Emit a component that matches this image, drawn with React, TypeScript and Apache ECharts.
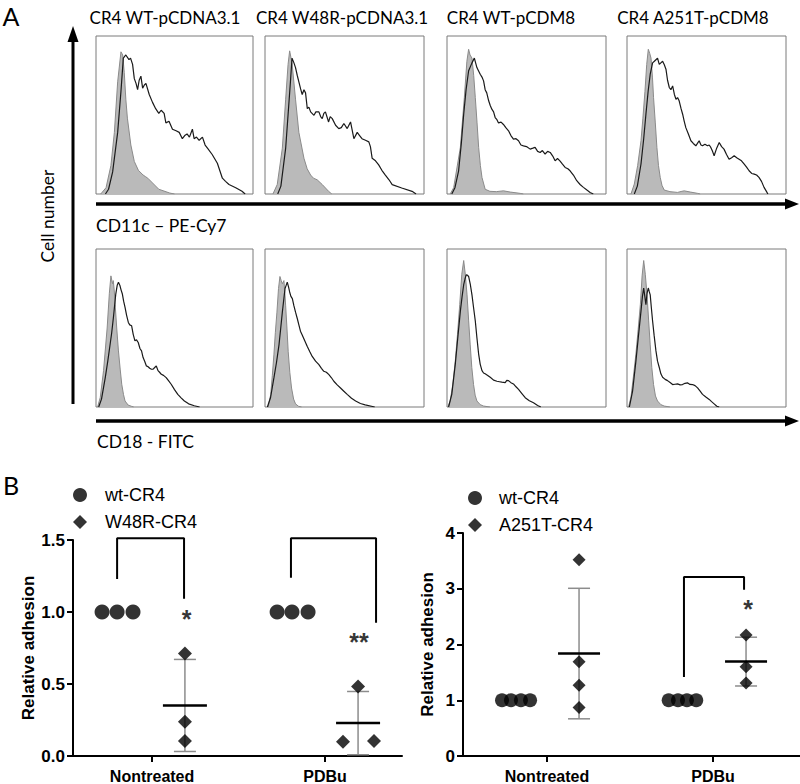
import React, { useEffect, useRef } from 'react';
import * as echarts from 'echarts';

// ---------- Panel A : flow cytometry histograms (x: fluorescence 0-100, y: % of max) ----------
const PANEL_TITLES = ['CR4 WT-pCDNA3.1', 'CR4 W48R-pCDNA3.1', 'CR4 WT-pCDM8', 'CR4 A251T-pCDM8'];
const TITLE_X = [165, 342, 511, 693];

// CD11c – PE-Cy7 row
const CD11C_WT31_CTRL = [[3,0],[6.4,4],[9.5,18],[11.7,39],[13.8,71],[15.9,90],[17,88],[18,77],[19,60],[20,48],[22.2,31],[24.4,20.6],[27,15],[30,12],[31.5,11],[33,10],[36,7],[40,3],[47,0.6],[50,0]];
const CD11C_WT31_STAIN = [[6,0],[8,3],[10.6,14],[13.8,39],[15.9,65],[17.4,86],[19,88],[21,85],[22,86],[23.3,82],[24.4,73],[25.5,70],[26.5,66],[27.5,72],[28.6,74.6],[29.7,67],[30.8,69],[31.8,70],[33.9,63],[36,58],[38,54],[40,51],[41.5,53],[43.4,51],[44.5,45],[46.5,46],[48.7,41],[51,40],[53,39],[55,35],[56.5,37],[58,38],[59.5,36],[61.4,41],[62.5,35],[64,36],[65.7,34],[67.8,36],[69.5,31],[71,29],[74,25],[77.3,19.5],[80.5,10],[82.5,8],[84.7,6],[89,4],[93,1.7],[95,0]];
const CD11C_W48R_CTRL = [[5,0],[7.7,6],[10.9,29],[13,60],[14.5,82],[15.5,90.6],[17,83],[19.2,60],[21.3,39],[24.5,22.6],[26.5,16],[28.7,12],[30.5,10],[32.8,9],[36,6],[40,1.7],[42,0]];
const CD11C_W48R_STAIN = [[8,0],[10,5],[13,29],[16,71],[17,86],[18.2,83],[19.2,80],[20.3,75],[21.3,71],[22.4,66.5],[23.4,63],[24.5,66],[25.5,64],[26.6,54],[27.6,55],[28.7,52],[30.8,49.8],[32,52],[33.9,52],[35,49],[36,47.7],[37,51],[38,52],[40,45.6],[41,49],[42.3,47.7],[44.4,43.5],[46.4,41.4],[48,42],[49.6,44.6],[51.7,41.4],[53.8,45.6],[55.9,35],[58,39],[59.5,37],[61,35],[63.2,34],[65.3,33],[66.3,30],[67.4,22.6],[69.5,21],[71.5,18.4],[73.5,15],[75.7,12],[78,9],[80,5.9],[86,3.8],[92.5,1.7],[95,0]];
const CD11C_WT8_CTRL = [[2,0],[4.2,4],[8.4,29.5],[10.9,61],[12.5,84],[13.6,91.6],[14.5,88],[15.7,86],[16.8,75],[17.8,61],[18.9,45],[19.9,29.5],[21,18],[22,10.5],[24,3],[27,1.7],[31,1.5],[35.5,2],[40,1.2],[46,0.4],[48,0]];
const CD11C_WT8_STAIN = [[3,0],[5,4],[7.3,14.7],[9,32],[10.5,50.5],[12,66],[13.6,78],[15.7,83],[17.2,86],[18,83],[18.8,80],[19.8,78],[20.9,75.8],[22,74],[23,71.6],[24,66],[25,64],[26.2,59],[27.2,56],[28.2,53.7],[29.3,52],[30.3,48.4],[31.4,47],[32.4,45],[34,45.5],[35.5,44],[37,42],[38.7,40],[40.2,37],[41.8,34.7],[43.4,35],[45,33.7],[46.5,31],[48.1,30.5],[50,30],[52.3,28.4],[54,29],[55.4,29.5],[57,27],[58.6,26.3],[60,27.5],[61.7,25.3],[63.3,27],[64.9,26.3],[66.5,24],[68,21],[69.5,22.5],[71,21],[72.5,19],[74.3,16.8],[76,16],[77.4,14.7],[79.5,12],[81.6,8.4],[83.7,6],[85.8,4.2],[88,2.5],[90,1],[92,0]];
const CD11C_A251T_CTRL = [[2.5,0],[4.6,6.3],[6.7,18],[8.8,33.7],[10,48],[11.3,65],[12.4,82],[13.4,91.6],[14.3,89],[15.1,86],[16,74],[16.7,61],[17.8,45],[18.8,29.5],[19.8,18],[20.9,10.5],[22,5.5],[23.4,2.5],[27,1.5],[31.8,1],[34,1.6],[36,2],[40,1.2],[44.4,0.4],[46,0]];
const CD11C_A251T_STAIN = [[4.6,0],[6.5,5],[8.8,19],[10.5,35],[11.9,50.5],[13.3,65],[14.6,75.8],[16.1,83],[17.2,84],[18.2,85],[19.2,86],[20.3,82],[21.3,83],[22.4,84],[23.4,82],[24.5,79],[25.5,72],[26.6,67.4],[27.6,66],[28.7,68.4],[29.8,63],[30.8,60],[31.8,61],[32.8,59],[34,54],[35,50.5],[36,46],[37,42],[38.6,38],[40.2,33.7],[41.7,32],[43.3,30.5],[44.3,32],[45.4,33.7],[46.5,31],[47.5,30.5],[49,31.5],[50.6,30.5],[51.7,31],[52.7,29.5],[53.8,27],[54.8,24.2],[56.4,29],[58,32.6],[59.5,30],[61,28.4],[62.6,25],[64.2,22],[65.8,23],[67.4,24.2],[69,23],[70.5,22],[72,21],[73.6,19],[75.2,17],[76.8,14.7],[78.4,13],[80,12.6],[81.5,12],[83,10.5],[84.6,8],[86.2,4.2],[87.5,2],[88.6,0]];

// CD18 - FITC row
const CD18_WT31_CTRL = [[1,0],[2.7,6],[4.8,23],[7.1,50],[8.5,72],[9.5,83],[10.5,78],[11,80],[11.6,74],[12.2,65],[13.2,50],[14.3,35.5],[15.4,24],[16.4,14.4],[17.5,8],[18.5,3.8],[20.5,1.2],[22.7,0.4],[24,0]];
const CD18_WT31_STAIN = [[1.7,0],[3.5,5],[5.9,18.6],[7.5,29],[9,39.7],[10,47],[11.1,56.7],[12.6,71.5],[13.5,77],[14.3,78.9],[15.3,76.7],[16,74],[16.8,71.5],[17.6,67],[18.5,63],[19.5,58],[20.6,53.5],[21.5,52],[22.7,51.4],[23.7,46],[24.8,41.9],[25.8,42.5],[26.9,40.8],[28,37],[29,35.5],[30,31.3],[31,29],[32.1,26],[33.2,25.5],[34.2,24.5],[35.3,23.9],[36.4,24],[37.4,25],[38.4,26],[39.5,23],[40.5,22],[41.6,20.7],[43,20],[44.7,18.6],[46.3,16.5],[47.9,14.4],[50,11],[52.1,8],[54.2,5.8],[56.3,3.8],[59,2],[62.6,0.8],[66,0]];
const CD18_W48R_CTRL = [[2,0],[3.6,8],[4.6,20],[5.6,33],[6.5,47],[7.5,60],[8.5,75],[9.4,82.6],[10.2,80],[10.9,78],[11.9,80],[12.5,72],[13,64],[13.8,50],[14.6,35],[15.6,22],[16.7,12],[18,5],[19.2,2],[21,0.5],[23,0]];
const CD18_W48R_STAIN = [[1.5,0],[3.5,6],[5.6,18.4],[7.2,28],[8.8,39.3],[9.9,50],[10.9,60],[11.8,68],[12.6,75],[13.3,77],[14,79],[14.8,76],[15.5,72.8],[16.3,70],[17.2,68.6],[18.2,64],[19.2,60],[20.3,56],[21.3,52],[22.3,48],[23.4,45.6],[25,42],[26.6,38.3],[28.2,35],[29.7,32],[31.8,29],[33.9,26.8],[35.5,24.5],[37,22.6],[38.6,22],[40.2,20.5],[41.8,18.5],[43.3,16.3],[45.4,14],[47.5,12],[49.6,10],[51.7,8],[54.4,5.5],[57,3.8],[60,2.2],[63,1.3],[69,0]];
const CD18_WT8_CTRL = [[0.5,0],[2,3.8],[3.6,14],[5.2,29],[6.6,46],[8,64.8],[9.3,84],[10.5,92.7],[11.5,84],[12.6,71],[13.6,55],[14.6,39.3],[15.6,25],[16.7,14.2],[17.7,7.5],[18.8,3.8],[20.9,1.5],[23,0.6],[27,0]];
const CD18_WT8_STAIN = [[1,0],[3,8],[5.2,27],[6.8,44],[8.4,60.7],[9.5,70],[10.5,77.4],[11.3,81],[12.1,83.7],[12.8,83.5],[13.6,82.6],[14.6,78],[15.7,71],[16.7,63],[17.8,54.4],[18.8,44],[19.9,33.5],[20.9,27],[22,23],[23,21.5],[24,21],[25.6,20],[27.2,18.8],[29.3,17],[31.4,16.3],[33,16],[34.5,15.7],[36.6,15.4],[37.6,16.8],[38.7,16.7],[40.2,15.4],[41.8,14.6],[43.4,12.8],[45,11.1],[47.1,8.5],[49.2,5.9],[51.8,4],[54.4,2.7],[57,1],[59,0]];
const CD18_A251T_CTRL = [[1,0],[2.5,6.3],[4,19],[5.6,33.5],[7,49],[8.4,64.8],[9.5,83],[10.5,92.7],[11.5,84],[12.6,71],[13.6,55],[14.6,39.3],[15.6,25],[16.7,14.2],[17.9,7],[19.2,3.8],[21.3,1.5],[23.4,0.6],[27,0]];
const CD18_A251T_STAIN = [[1.5,0],[3.5,10],[5.6,29],[7.2,45],[8.8,60.7],[9.7,70],[10.5,75.3],[11.2,70],[11.9,64.8],[12.6,72],[13.4,75.3],[14,73],[14.6,71],[15.3,63],[16.1,54.4],[17.1,45],[18.2,35.5],[19.2,29],[20.3,25],[21.3,21],[22.4,18.8],[24,17.5],[25.5,16.7],[27.1,15.5],[28.7,14.2],[30.2,14.4],[31.8,14.6],[33.4,14],[34.9,14.2],[36.5,15],[38,15.3],[39.6,14.3],[41.2,14.2],[42.8,13.5],[44.4,12.1],[46,10],[47.5,8],[49.6,6.3],[51.7,4.8],[53.2,3.4],[54.8,2],[56.5,0.5],[58,0]];

// ---------- Panel B : relative adhesion ----------
const CATEGORIES = ['Nontreated', 'PDBu'];
// left plot (W48R)
const L_WT_NT_X = [0.711, 0.798, 0.890];
const L_WT_NT = [1, 1, 1];
const L_WT_PD_X = [1.723, 1.809, 1.902];
const L_WT_PD = [1, 1, 1];
const W48R_NT_X = [1.19, 1.19, 1.19];
const W48R_NT = [0.712, 0.237, 0.104];
const W48R_PD_X = [2.104, 2.191, 2.283];
const W48R_PD = [0.099, 0.482, 0.104];
const L_GROUP_X = [1.19, 2.191];
// right plot (A251T)
const R_WT_NT_X = [0.729, 0.783, 0.843, 0.898];
const R_WT_NT = [1, 1, 1, 1];
const R_WT_PD_X = [1.733, 1.789, 1.843, 1.899];
const R_WT_PD = [1, 1, 1, 1];
const A251T_NT_X = [1.193, 1.193, 1.193, 1.193];
const A251T_NT = [3.52, 1.69, 1.27, 0.87];
const A251T_PD_X = [2.199, 2.199, 2.199];
const A251T_PD = [2.17, 1.60, 1.31];
const R_GROUP_X = [1.193, 2.199];
// significance brackets [x, y]
const L_BRACKET_NT = [[0.798, 1.23], [0.798, 1.512], [1.185, 1.512], [1.185, 1.092]];
const L_BRACKET_PD = [[1.803, 1.237], [1.803, 1.512], [2.295, 1.512], [2.295, 0.926]];
const R_BRACKET_PD = [[1.825, 1.417], [1.825, 3.21], [2.187, 3.21], [2.187, 2.98]];
const L_STARS = [[1.2, 0.992, '*'], [2.197, 0.83, '**']];
const R_STARS = [[2.211, 2.744, '*']];

const pair = (xs: number[], ys: number[]) => ys.map((y, i) => [xs[i], y]);
const mean = (a: number[]) => a.reduce((s, v) => s + v, 0) / a.length;
const sd = (a: number[]) => {
  const m = mean(a);
  return Math.sqrt(a.reduce((s, v) => s + (v - m) * (v - m), 0) / (a.length - 1));
};

const HIST_LEFT = [96, 265, 447, 627];
const HIST_W = [157, 159, 159, 159];
const HIST_TOP = [36, 249];
const HIST_H = 158;

const CALIBRI = 'Lato, "Open Sans", sans-serif';
const ARIAL = '"Liberation Sans", Arial, sans-serif';
const DIAMOND = 'path://M0,-1L1,0L0,1L-1,0Z';

export default function App() {
  const ref = useRef<HTMLDivElement>(null);
  useEffect(() => {
    if (!ref.current) return;
    const chart = echarts.init(ref.current, null, { renderer: 'svg' });

    const hists = [
      [CD11C_WT31_CTRL, CD11C_WT31_STAIN], [CD11C_W48R_CTRL, CD11C_W48R_STAIN],
      [CD11C_WT8_CTRL, CD11C_WT8_STAIN], [CD11C_A251T_CTRL, CD11C_A251T_STAIN],
      [CD18_WT31_CTRL, CD18_WT31_STAIN], [CD18_W48R_CTRL, CD18_W48R_STAIN],
      [CD18_WT8_CTRL, CD18_WT8_STAIN], [CD18_A251T_CTRL, CD18_A251T_STAIN],
    ];
    const grid: any[] = [];
    const xAxis: any[] = [];
    const yAxis: any[] = [];
    const series: any[] = [];

    hists.forEach(([c, s], i) => {
      const row = Math.floor(i / 4), col = i % 4;
      grid.push({ left: HIST_LEFT[col], top: HIST_TOP[row], width: HIST_W[col], height: HIST_H,
        show: true, borderColor: '#7a7a7a', borderWidth: 1, backgroundColor: '#fff' });
      xAxis.push({ gridIndex: i, type: 'value', min: 0, max: 100, show: false });
      yAxis.push({ gridIndex: i, type: 'value', min: 0, max: 100, show: false });
      series.push({ type: 'line', xAxisIndex: i, yAxisIndex: i, data: c, symbol: 'none', silent: true, z: 2,
        lineStyle: { color: '#8a8a8a', width: 1 }, areaStyle: { color: '#bababa', opacity: 1 } });
      series.push({ type: 'line', xAxisIndex: i, yAxisIndex: i, data: s, symbol: 'none', silent: true, z: 3,
        lineStyle: { color: '#1a1a1a', width: 1.2 } });
    });

    // Panel B grids
    const axisLine = { show: true, onZero: false, lineStyle: { color: '#000', width: 2 } };
    const axisTick = { show: true, length: 6, lineStyle: { color: '#000', width: 2 } };
    const tickFont = { color: '#000', fontFamily: ARIAL, fontWeight: 'bold' as const };
    grid.push({ left: 73, top: 540, width: 329, height: 217 });
    grid.push({ left: 463, top: 533, width: 337, height: 223 });
    const catX = (gi: number, min: number, max: number) => ({
      gridIndex: gi, type: 'value', min, max, axisLine, splitLine: { show: false },
      axisTick: { ...axisTick, customValues: [1, 2] },
      axisLabel: { ...tickFont, fontSize: 16, margin: 12, customValues: [1, 2],
        formatter: (v: number) => CATEGORIES[Math.round(v) - 1] },
    });
    xAxis.push(catX(8, 0.543, 2.445));
    xAxis.push(catX(9, 0.494, 2.524));
    yAxis.push({ gridIndex: 8, type: 'value', min: 0, max: 1.5, interval: 0.5, axisLine, axisTick,
      splitLine: { show: false },
      axisLabel: { ...tickFont, fontSize: 17, margin: 8, formatter: (v: number) => v.toFixed(1) },
      name: 'Relative adhesion', nameLocation: 'middle', nameGap: 36,
      nameTextStyle: { ...tickFont, fontSize: 17 } });
    yAxis.push({ gridIndex: 9, type: 'value', min: 0, max: 4, interval: 1, axisLine, axisTick,
      splitLine: { show: false },
      axisLabel: { ...tickFont, fontSize: 17, margin: 8 },
      name: 'Relative adhesion', nameLocation: 'middle', nameGap: 27,
      nameTextStyle: { ...tickFont, fontSize: 17 } });

    const errRender = (meanHalf: number, capHalf: number) => (params: any, api: any) => {
      const x = api.value(0), m = api.value(1), s = api.value(2);
      const c = api.coord([x, m]);
      const t = api.coord([x, m + s]);
      const b = api.coord([x, m - s]);
      const grey = { stroke: '#8c8c8c', lineWidth: 1.5 };
      return {
        type: 'group',
        children: [
          { type: 'line', shape: { x1: c[0], y1: t[1], x2: c[0], y2: b[1] }, style: grey },
          { type: 'line', shape: { x1: c[0] - capHalf, y1: t[1], x2: c[0] + capHalf, y2: t[1] }, style: grey },
          { type: 'line', shape: { x1: c[0] - capHalf, y1: b[1], x2: c[0] + capHalf, y2: b[1] }, style: grey },
          { type: 'line', shape: { x1: c[0] - meanHalf, y1: c[1], x2: c[0] + meanHalf, y2: c[1] },
            style: { stroke: '#000', lineWidth: 2.5 } },
        ],
      };
    };
    const bracket = (gi: number, data: number[][]) => ({
      type: 'line', xAxisIndex: gi, yAxisIndex: gi, data, symbol: 'none', clip: false, silent: true,
      lineStyle: { color: '#000', width: 2 }, z: 2,
    });
    const stars = (gi: number, data: any[]) => ({
      type: 'scatter', xAxisIndex: gi, yAxisIndex: gi, data, symbolSize: 1, silent: true,
      itemStyle: { color: 'transparent' },
      label: { show: true, position: 'inside', offset: [0, 6], formatter: (p: any) => p.value[2],
        color: '#000', fontFamily: ARIAL, fontWeight: 'bold', fontSize: 25 },
    });

    // left plot series
    series.push({ name: 'wt-CR4', type: 'scatter', xAxisIndex: 8, yAxisIndex: 8, symbol: 'circle', symbolSize: 15,
      itemStyle: { color: '#000' }, z: 4, data: [...pair(L_WT_NT_X, L_WT_NT), ...pair(L_WT_PD_X, L_WT_PD)] });
    series.push({ name: 'W48R-CR4', type: 'scatter', xAxisIndex: 8, yAxisIndex: 8, symbol: 'diamond', symbolSize: 14,
      itemStyle: { color: '#000' }, z: 4, data: [...pair(W48R_NT_X, W48R_NT), ...pair(W48R_PD_X, W48R_PD)] });
    series.push({ type: 'custom', xAxisIndex: 8, yAxisIndex: 8, silent: true, z: 3,
      encode: { x: 0, y: 1 }, renderItem: errRender(22, 11),
      data: [[L_GROUP_X[0], mean(W48R_NT), sd(W48R_NT)], [L_GROUP_X[1], mean(W48R_PD), sd(W48R_PD)]] });
    series.push(bracket(8, L_BRACKET_NT));
    series.push(bracket(8, L_BRACKET_PD));
    series.push(stars(8, L_STARS));

    // right plot series
    series.push({ name: 'wt-CR4', type: 'scatter', xAxisIndex: 9, yAxisIndex: 9, symbol: 'circle', symbolSize: 14,
      itemStyle: { color: '#000' }, z: 4,
      data: [...pair(R_WT_NT_X, R_WT_NT), ...pair(R_WT_PD_X, R_WT_PD)] });
    series.push({ name: 'A251T-CR4', type: 'scatter', xAxisIndex: 9, yAxisIndex: 9, symbol: 'diamond', symbolSize: 13,
      itemStyle: { color: '#000' }, z: 4, data: [...pair(A251T_NT_X, A251T_NT), ...pair(A251T_PD_X, A251T_PD)] });
    series.push({ type: 'custom', xAxisIndex: 9, yAxisIndex: 9, silent: true, z: 3,
      encode: { x: 0, y: 1 }, renderItem: errRender(21, 11),
      data: [[R_GROUP_X[0], mean(A251T_NT), sd(A251T_NT)], [R_GROUP_X[1], mean(A251T_PD), sd(A251T_PD)]] });
    series.push(bracket(9, R_BRACKET_PD));
    series.push(stars(9, R_STARS));

    const legendText = { color: '#000', fontFamily: ARIAL, fontSize: 18 };
    const legend = [
      { left: 68, top: 481, orient: 'vertical', itemWidth: 40, itemHeight: 14, itemGap: 9, selectedMode: false,
        symbolKeepAspect: true, textStyle: legendText, itemStyle: { color: '#000' },
        data: [{ name: 'wt-CR4', icon: 'circle' }, { name: 'W48R-CR4', icon: DIAMOND }] },
      { left: 463, top: 484, orient: 'vertical', itemWidth: 38, itemHeight: 14, itemGap: 9, selectedMode: false,
        symbolKeepAspect: true, textStyle: legendText, itemStyle: { color: '#000' },
        data: [{ name: 'wt-CR4', icon: 'circle' }, { name: 'A251T-CR4', icon: DIAMOND }] },
    ];

    const txt = (text: string, x: number, y: number, size: number, align = 'left', extra: any = {}) => ({
      type: 'text', x, y, ...extra,
      style: { text, fontSize: size, fontFamily: CALIBRI, fill: '#000', align, verticalAlign: 'middle' },
    });
    const graphic: any[] = [
      txt('A', 11, 16, 25, 'center'),
      txt('B', 11, 485, 25, 'center'),
      ...PANEL_TITLES.map((t, i) => txt(t, TITLE_X[i], 17, 17, 'center')),
      txt('Cell number', 47, 216, 17.5, 'center', { rotation: Math.PI / 2 }),
      txt('CD11c – PE-Cy7', 96, 225, 17.5),
      txt('CD18 - FITC', 97, 441, 17.5),
      { type: 'line', shape: { x1: 73, y1: 404, x2: 73, y2: 38 }, style: { stroke: '#000', lineWidth: 3 } },
      { type: 'polygon', shape: { points: [[73, 26], [67.5, 42], [78.5, 42]] }, style: { fill: '#000' } },
      { type: 'line', shape: { x1: 96, y1: 204, x2: 788, y2: 204 }, style: { stroke: '#000', lineWidth: 3.5 } },
      { type: 'polygon', shape: { points: [[799, 204], [785, 198.5], [785, 209.5]] }, style: { fill: '#000' } },
      { type: 'line', shape: { x1: 96, y1: 421, x2: 788, y2: 421 }, style: { stroke: '#000', lineWidth: 3.5 } },
      { type: 'polygon', shape: { points: [[799, 421], [785, 415.5], [785, 426.5]] }, style: { fill: '#000' } },
    ];

    chart.setOption({
      animation: false,
      backgroundColor: '#fff',
      grid, xAxis, yAxis, series, legend, graphic,
    });
    return () => chart.dispose();
  }, []);
  return <div ref={ref} style={{ position: 'absolute', left: 0, top: 0, width: 800, height: 784 }} />;
}
